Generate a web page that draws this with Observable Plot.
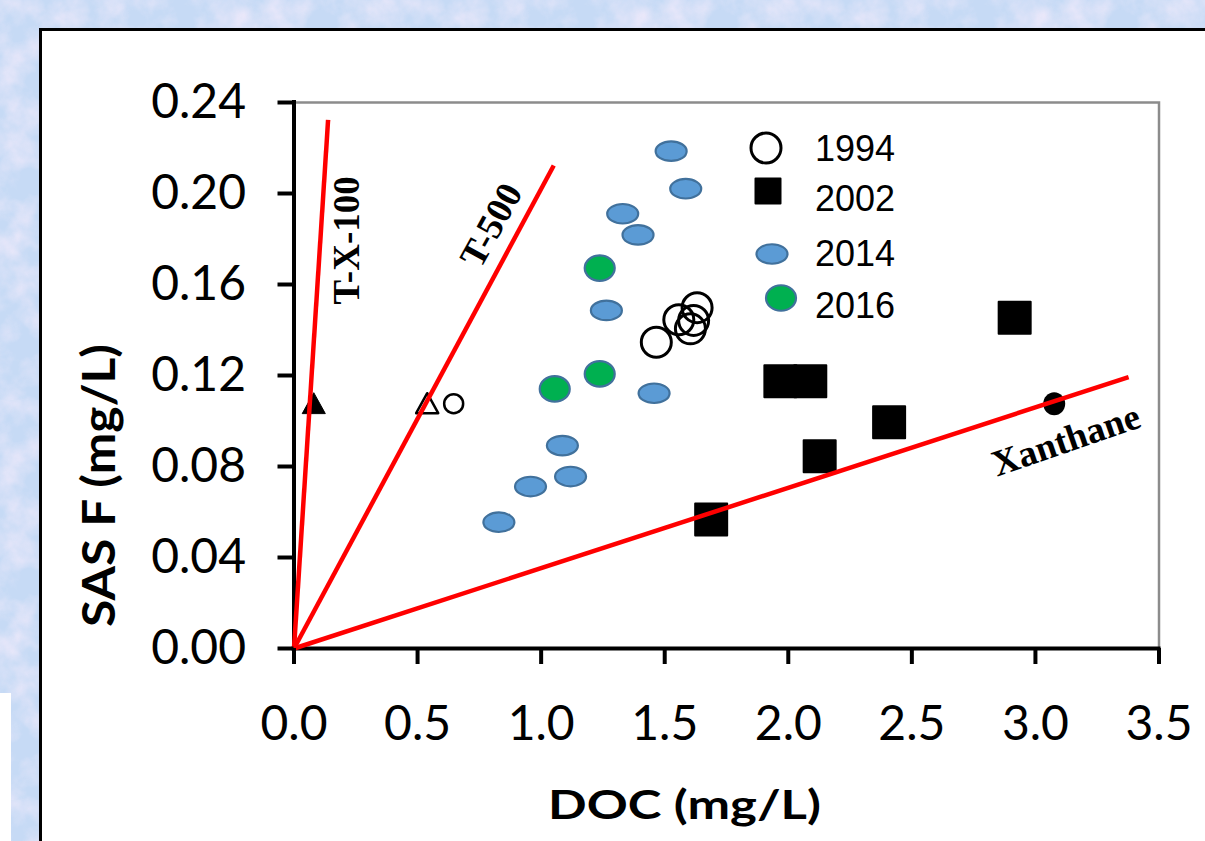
<!DOCTYPE html>
<html>
<head>
<meta charset="utf-8">
<script src="https://cdn.jsdelivr.net/npm/d3@7"></script>
<script src="https://cdn.jsdelivr.net/npm/@observablehq/plot@0.6"></script>
<style>
  html, body { margin: 0; padding: 0; }
  body { width: 1205px; height: 841px; overflow: hidden; position: relative; background-color: #c6daf5; }
  #panel { position: absolute; left: 39px; top: 28px; width: 1220px; height: 900px; background: #fff; border: 3px solid #000; }
  #patch { position: absolute; left: 0; top: 693px; width: 11px; height: 148px; background: #fff; }
  #chart { position: absolute; left: 0; top: 0; }
</style>
</head>
<body>
<div id="panel"></div>
<div id="patch"></div>
<div id="chart"></div>
<script>
// ---------- data ----------
const xTicks = [0, 0.5, 1, 1.5, 2, 2.5, 3, 3.5];
const yTicks = [0, 0.04, 0.08, 0.12, 0.16, 0.20, 0.24];
const xTitle = "DOC (mg/L)";
const yTitle = "SAS F (mg/L)";

const series = ["1994", "2002", "2014", "2016"];

const x1994 = [1.466, 1.557, 1.604, 1.617, 1.631];
const y1994 = [0.1346, 0.1445, 0.1405, 0.1442, 0.1498];

const x2002 = [1.688, 1.968, 2.089, 2.127, 2.408, 2.916];
const y2002 = [0.0567, 0.1175, 0.1175, 0.0845, 0.0995, 0.1454];

const x2014 = [0.829, 0.957, 1.086, 1.119, 1.264, 1.330, 1.392, 1.457, 1.526, 1.585];
const y2014 = [0.0555, 0.0712, 0.0892, 0.0756, 0.1486, 0.1911, 0.1818, 0.1122, 0.2186, 0.2021];

const x2016 = [1.055, 1.237, 1.237];
const y2016 = [0.1141, 0.1207, 0.1672];

// reference markers (surfactant standards)
const refX = [0.080, 0.539, 0.646, 3.076];
const refY = [0.1076, 0.1076, 0.1076, 0.1076];
const refKind = ["filledTriangle", "openTriangle", "openCircle", "filledCircle"];

// reference lines through the origin
const lineNames = ["T-X-100", "T-500", "Xanthane"];
const lineEndX = [0.138, 1.051, 3.377];
const lineEndY = [0.2324, 0.2123, 0.1193];

// ---------- background texture ----------
const noise = `<svg xmlns='http://www.w3.org/2000/svg' width='400' height='400'><filter id='n' x='0' y='0' width='100%' height='100%'><feTurbulence type='fractalNoise' baseFrequency='0.03' numOctaves='4' seed='7'/><feColorMatrix type='matrix' values='0 0 0 0 0.91  0 0 0 0 0.84  0 0 0 0 0.97  1.6 0 0 0 -0.62'/></filter><rect width='400' height='400' filter='url(#n)'/></svg>`;
document.body.style.backgroundImage = `url("data:image/svg+xml,${encodeURIComponent(noise)}")`;

// ---------- symbols ----------
const K = 0.5523;
function ellipse(ratio) {
  return {draw(ctx, size) {
    const rx = Math.sqrt(size / Math.PI), ry = rx * ratio;
    ctx.moveTo(rx, 0);
    ctx.bezierCurveTo(rx, ry * K, rx * K, ry, 0, ry);
    ctx.bezierCurveTo(-rx * K, ry, -rx, ry * K, -rx, 0);
    ctx.bezierCurveTo(-rx, -ry * K, -rx * K, -ry, 0, -ry);
    ctx.bezierCurveTo(rx * K, -ry, rx, -ry * K, rx, 0);
    ctx.closePath();
  }};
}
const squareSym = {draw(ctx, size) {
  const r = Math.sqrt(size / Math.PI);
  ctx.moveTo(-r, -r); ctx.lineTo(r, -r); ctx.lineTo(r, r); ctx.lineTo(-r, r); ctx.closePath();
}};
const triSym = {draw(ctx, size) {
  const r = Math.sqrt(size / Math.PI);
  ctx.moveTo(0, -r); ctx.lineTo(r * 1.05, r * 0.9); ctx.lineTo(-r * 1.05, r * 0.9); ctx.closePath();
}};

const seriesStyle = {
  "1994": {symbol: ellipse(1), r: 15, fill: "none", stroke: "black", strokeWidth: 3},
  "2002": {symbol: squareSym, r: 16, fill: "black", stroke: "black", strokeWidth: 2, strokeLinejoin: "round"},
  "2014": {symbol: ellipse(0.63), r: 15.5, fill: "#5b9bd5", stroke: "#41719c", strokeWidth: 2.2},
  "2016": {symbol: ellipse(0.85), r: 15, fill: "#00b050", stroke: "#41719c", strokeWidth: 2.2}
};
const legendR = {"1994": 15, "2002": 12.5, "2014": 15.5, "2016": 15};
const refStyle = {
  filledTriangle: {symbol: triSym, r: 11, fill: "black", stroke: "black", strokeWidth: 1},
  openTriangle: {symbol: triSym, r: 10.5, fill: "none", stroke: "black", strokeWidth: 2.5, strokeLinejoin: "round"},
  openCircle: {symbol: ellipse(1), r: 9.5, fill: "none", stroke: "black", strokeWidth: 2.5},
  filledCircle: {symbol: ellipse(1.05), r: 11, fill: "black", stroke: "none"}
};
const lineLabelStyle = {
  "T-X-100": {t: 0.772, dx: 27, dy: 0, rotate: -90},
  "T-500": {t: 0.876, dx: -30, dy: 0, rotate: -61},
  "Xanthane": {t: 0.925, dx: 0, dy: 43, rotate: -19}
};

// ---------- build rows ----------
const seriesX = {"1994": x1994, "2002": x2002, "2014": x2014, "2016": x2016};
const seriesY = {"1994": y1994, "2002": y2002, "2014": y2014, "2016": y2016};
const points = series.flatMap(s => seriesX[s].map((x, i) => ({series: s, x, y: seriesY[s][i]})));
const refs = refX.map((x, i) => ({kind: refKind[i], x, y: refY[i]}));
const lines = lineNames.map((name, i) => ({name, x: lineEndX[i], y: lineEndY[i]}));

const chart = Plot.plot({
  width: 1205,
  height: 841,
  marginLeft: 293.5,
  marginRight: 46.5,
  marginTop: 102,
  marginBottom: 193,
  x: {domain: [0, 3.5]},
  y: {domain: [0, 0.24]},
  style: {background: "transparent", color: "black", fontFamily: "Lato", overflow: "visible"},
  marks: [
    Plot.frame({stroke: "#8c8c8c", strokeWidth: 2.5}),
    ...series.map(s => Plot.dot(points.filter(d => d.series === s), {x: "x", y: "y", ...seriesStyle[s]})),
    ...refKind.map(k => Plot.dot(refs.filter(d => d.kind === k), {x: "x", y: "y", ...refStyle[k]})),
    Plot.ruleX([0], {stroke: "black", strokeWidth: 4, strokeLinecap: "square"}),
    Plot.ruleY([0], {stroke: "black", strokeWidth: 4, strokeLinecap: "square"}),
    Plot.link(lines, {x1: () => 0, y1: () => 0, x2: "x", y2: "y", stroke: "#ff0000", strokeWidth: 4.5}),
    ...lines.map(l => {
      const st = lineLabelStyle[l.name];
      return Plot.text([l], {
        x: d => d.x * st.t, y: d => d.y * st.t, text: "name",
        rotate: st.rotate, dx: st.dx, dy: st.dy,
        fontFamily: "Liberation Serif", fontWeight: "bold", fontSize: 37, fill: "black"
      });
    }),
    Plot.axisY({ticks: yTicks, tickFormat: d => d.toFixed(2), tickSize: 16, tickPadding: 32,
      stroke: "black", strokeWidth: 4, fontSize: 48, fontFamily: "Lato", label: null}),
    Plot.axisX({ticks: xTicks, tickFormat: d => d.toFixed(1), tickSize: 16, tickPadding: 41,
      stroke: "black", strokeWidth: 4, fontSize: 48, fontFamily: "Lato", label: null})
  ]
});
document.getElementById("chart").appendChild(chart);

// ---------- axis titles & legend ----------
const svg = d3.select(chart);
svg.append("text")
  .attr("x", 684.5).attr("y", 819)
  .attr("text-anchor", "middle")
  .attr("font-family", "Lato").attr("font-weight", "bold").attr("font-size", 41)
  .attr("textLength", 273).attr("lengthAdjust", "spacingAndGlyphs")
  .attr("fill", "black")
  .text(xTitle);
svg.append("text")
  .attr("transform", "translate(115,485.5) rotate(-90)")
  .attr("text-anchor", "middle")
  .attr("font-family", "Lato").attr("font-weight", "bold").attr("font-size", 46)
  .attr("textLength", 283).attr("lengthAdjust", "spacingAndGlyphs")
  .attr("fill", "black")
  .text(yTitle);

const legendLayout = {symX: [766, 768, 772, 781], symY: [148, 191, 254, 298], textX: 815, textY: [148, 198, 253, 305]};
const legend = svg.append("g");
series.forEach((s, i) => {
  const st = seriesStyle[s];
  const r = legendR[s];
  legend.append("path")
    .attr("transform", `translate(${legendLayout.symX[i]},${legendLayout.symY[i]})`)
    .attr("d", d3.symbol(st.symbol, Math.PI * r * r)())
    .attr("fill", st.fill).attr("stroke", st.stroke).attr("stroke-width", st.strokeWidth)
    .attr("stroke-linejoin", st.strokeLinejoin || "miter");
  legend.append("text")
    .attr("x", legendLayout.textX).attr("y", legendLayout.textY[i]).attr("dy", "0.35em")
    .attr("text-anchor", "start")
    .attr("font-family", "Liberation Sans").attr("font-size", 36).attr("fill", "black")
    .text(s);
});
</script>
</body>
</html>
